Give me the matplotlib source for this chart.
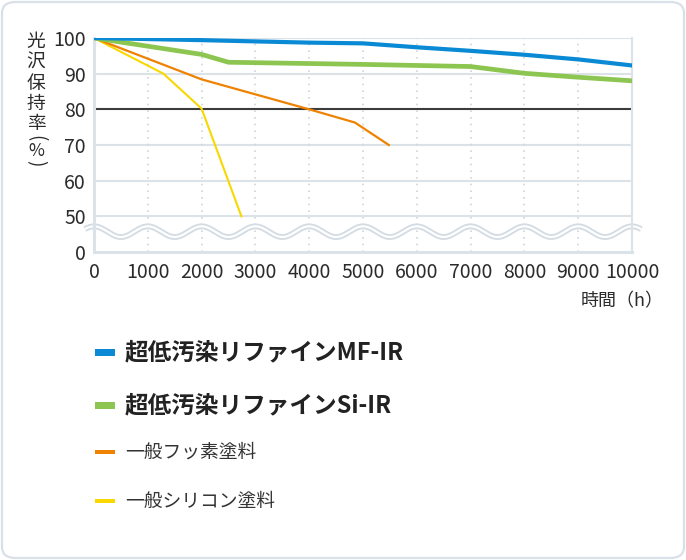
import numpy as np
import matplotlib
matplotlib.use("Agg")
import matplotlib.pyplot as plt
from matplotlib.patches import FancyBboxPatch, Rectangle

plt.rcParams['font.family'] = ['Noto Sans CJK JP', 'DejaVu Sans']

# ---- data ----
mf_x = [0, 2000, 4000, 5000, 6000, 7000, 8000, 9000, 10000]
mf_y = [100, 99.4, 98.7, 98.5, 97.4, 96.4, 95.3, 94.0, 92.3]
si_x = [0, 1000, 2000, 2500, 5000, 7000, 8000, 9000, 10000]
si_y = [100, 97.7, 95.4, 93.2, 92.6, 92.0, 90.1, 89.0, 88.0]
fl_x = [0, 2000, 4000, 4850, 5480]
fl_y = [100, 88.4, 80.0, 76.3, 70.0]
sc_x = [0, 1290, 2000, 2740]
sc_y = [100, 90.0, 80.2, 50.0]

series_names = ['超低汚染リファインMF-IR', '超低汚染リファインSi-IR', '一般フッ素塗料', '一般シリコン塗料']
series_colors = ['#0a8ad4', '#8cc650', '#ef8200', '#f8d800']

x_ticks = [0, 1000, 2000, 3000, 4000, 5000, 6000, 7000, 8000, 9000, 10000]
y_ticks = [40, 50, 60, 70, 80, 90, 100]        # 40 = broken-axis position of "0"
y_tick_labels = ['0', '50', '60', '70', '80', '90', '100']
ylabel_chars = ['光', '沢', '保', '持', '率', '(', '%', ')']
xlabel_text = '時間（h）'

W, H = 686, 560
fig = plt.figure(figsize=(W / 100, H / 100), dpi=100)

# outer rounded frame
fig.patches.append(FancyBboxPatch((2 / W, 2 / H), (W - 4) / W, (H - 4) / H,
                                  boxstyle="round,pad=0,rounding_size=0.02",
                                  transform=fig.transFigure, facecolor='white',
                                  edgecolor='#d9e0e7', linewidth=1.6, zorder=-5))

ax_l, ax_r, ax_t, ax_b = 94, 632, 38, 252
ax = fig.add_axes([ax_l / W, 1 - ax_b / H, (ax_r - ax_l) / W, (ax_b - ax_t) / H])
ax.set_zorder(2)
ax.set_facecolor('none')
ax.set_xlim(0, 10000)
ax.set_ylim(40, 100)

grid_c = '#dbe2e8'
for yv in [50, 60, 70, 90, 100]:
    ax.axhline(yv, color=grid_c, lw=1.5, zorder=1)
ax.axhline(80, color='#3c3c3c', lw=1.5, zorder=1)
for xv in x_ticks[1:-1]:
    ax.axvline(xv, color='#cfd6dd', lw=1.2, linestyle=(0, (1, 3)), zorder=1)

for s in ['left', 'bottom', 'right', 'top']:
    ax.spines[s].set_color(grid_c)
ax.spines['left'].set_linewidth(2.2)
ax.spines['bottom'].set_linewidth(2.2)
ax.spines['right'].set_linewidth(1.5)
ax.spines['top'].set_visible(False)

# wavy break marker
wx = np.linspace(-170, 10170, 800)
wy = 45.7 + 1.5 * np.cos(2 * np.pi * wx / 1000)
ax.plot(wx, wy, color='#d3dbe3', lw=4.2, clip_on=False, zorder=2, solid_capstyle='butt')
ax.plot(wx, wy, color='white', lw=1.6, clip_on=False, zorder=2.1, solid_capstyle='butt')

ax.plot(sc_x, sc_y, color=series_colors[3], lw=1.5, zorder=3)
ax.plot(fl_x, fl_y, color=series_colors[2], lw=1.6, zorder=3)
ax.plot(si_x, si_y, color=series_colors[1], lw=3.4, zorder=4)
ax.plot(mf_x, mf_y, color=series_colors[0], lw=3.0, zorder=5)

ax.set_xticks(x_ticks)
ax.set_xticklabels([str(v) for v in x_ticks])
ax.set_yticks(y_ticks)
ax.set_yticklabels(y_tick_labels)
ax.tick_params(length=0, labelsize=14, labelcolor='#2b2b2b')
ax.tick_params(axis='y', pad=6)
ax.tick_params(axis='x', pad=7)

# vertical y label
ys = [41, 62, 83, 103, 123, 138, 151, 163]
rots = [0, 0, 0, 0, 0, -90, 0, -90]
sizes = [13.5, 13.5, 13.5, 13.5, 13.5, 13.5, 12.5, 13.5]
for ch, yp, r, fs in zip(ylabel_chars, ys, rots, sizes):
    fig.text(36 / W, 1 - yp / H, ch, ha='center', va='center', fontsize=fs,
             color='#2b2b2b', rotation=r, rotation_mode='anchor')

fig.text(664 / W, 1 - 301 / H, xlabel_text, ha='right', va='center', fontsize=13, color='#2b2b2b')

# legend
leg_y = [352, 405, 452, 501]
leg_h = [7, 7, 4, 4]
for i, (name, col) in enumerate(zip(series_names, series_colors)):
    yc = leg_y[i]
    fig.patches.append(Rectangle((95 / W, 1 - (yc + leg_h[i] / 2) / H), 20 / W, leg_h[i] / H,
                                 transform=fig.transFigure, facecolor=col, edgecolor='none'))
    if i < 2:
        fig.text(125 / W, 1 - yc / H, name, ha='left', va='center', fontsize=17,
                 fontweight='bold', color='#222222')
    else:
        fig.text(125 / W, 1 - yc / H, name, ha='left', va='center', fontsize=13.5,
                 color='#333333')

fig.savefig('out.png', dpi=100)
